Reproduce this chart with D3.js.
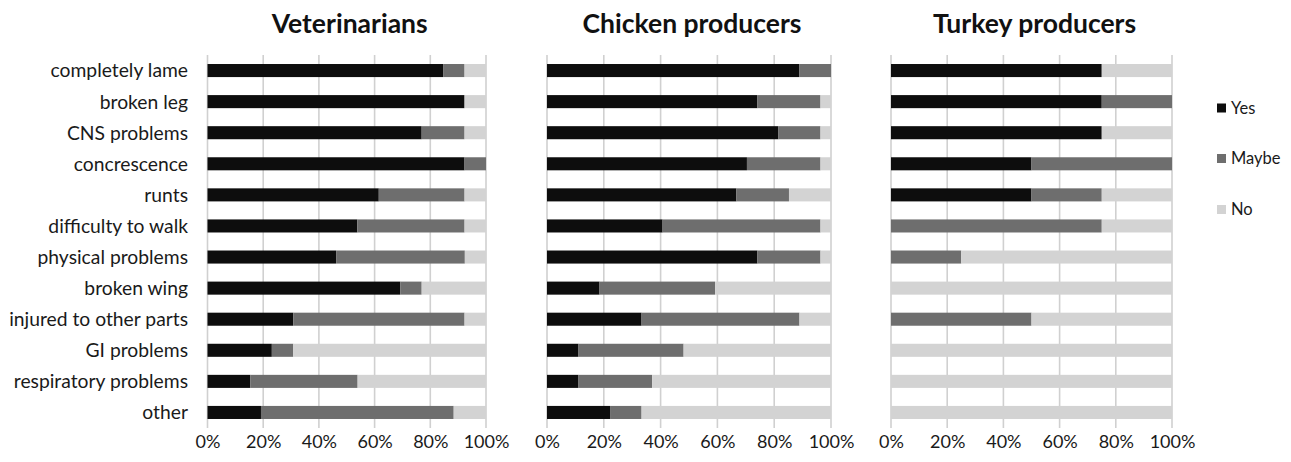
<!DOCTYPE html>
<html>
<head>
<meta charset="utf-8">
<script src="https://cdn.jsdelivr.net/npm/d3@7"></script>
<style>
  html, body { margin: 0; padding: 0; background: #fff; }
  svg { display: block; font-family: Lato, "Open Sans", sans-serif; }
</style>
</head>
<body>
<svg id="chart" width="1291" height="462"></svg>
<script>
// ---- data ----
const categories = ["completely lame", "broken leg", "CNS problems", "concrescence", "runts",
  "difficulty to walk", "physical problems", "broken wing", "injured to other parts",
  "GI problems", "respiratory problems", "other"];
const seriesNames = ["Yes", "Maybe", "No"];
const panelTitles = ["Veterinarians", "Chicken producers", "Turkey producers"];
const tickValues = [0, 20, 40, 60, 80, 100];

const vetYes   = [84.6, 92.3, 76.9, 92.3, 61.5, 53.8, 46.2, 69.2, 30.8, 23.1, 15.4, 19.2];
const vetMaybe = [7.7, 0, 15.4, 7.7, 30.8, 38.5, 46.2, 7.7, 61.5, 7.7, 38.5, 69.2];
const vetNo    = [7.7, 7.7, 7.7, 0, 7.7, 7.7, 7.6, 23.1, 7.7, 69.2, 46.1, 11.6];

const chickenYes   = [88.9, 74.1, 81.5, 70.4, 66.7, 40.7, 74.1, 18.5, 33.3, 11.1, 11.1, 22.2];
const chickenMaybe = [11.1, 22.2, 14.8, 25.9, 18.5, 55.6, 22.2, 40.7, 55.6, 37.0, 25.9, 11.1];
const chickenNo    = [0, 3.7, 3.7, 3.7, 14.8, 3.7, 3.7, 40.8, 11.1, 51.9, 63.0, 66.7];

const turkeyYes   = [75, 75, 75, 50, 50, 0, 0, 0, 0, 0, 0, 0];
const turkeyMaybe = [0, 25, 0, 50, 25, 75, 25, 0, 50, 0, 0, 0];
const turkeyNo    = [25, 0, 25, 0, 25, 25, 75, 100, 50, 100, 100, 100];

// ---- layout / style ----
const colors = { Yes: "#0d0d0d", Maybe: "#6e6e6e", No: "#d3d3d3" };
const panelRanges = [[207.5, 486], [547, 831], [891, 1172]];
const plotTop = 55, plotBottom = 428;

const panels = [
  [vetYes, vetMaybe, vetNo],
  [chickenYes, chickenMaybe, chickenNo],
  [turkeyYes, turkeyMaybe, turkeyNo]
];

const svg = d3.select("#chart");

const y = d3.scaleBand().domain(categories).range([plotTop, plotBottom]).paddingInner(0.58).paddingOuter(0.29);
const color = d3.scaleOrdinal().domain(seriesNames).range(seriesNames.map(s => colors[s]));

panels.forEach((arrs, pi) => {
  const x = d3.scaleLinear().domain([0, 100]).range(panelRanges[pi]);
  const g = svg.append("g");

  // gridlines
  g.selectAll("line.grid").data(tickValues).join("line")
    .attr("class", "grid")
    .attr("x1", d => x(d)).attr("x2", d => x(d))
    .attr("y1", plotTop).attr("y2", plotBottom)
    .attr("stroke", "#d0d0d0").attr("stroke-width", 1.6);

  // stacked bars
  const rows = categories.map((c, i) => ({ cat: c, Yes: arrs[0][i], Maybe: arrs[1][i], No: arrs[2][i] }));
  const stacked = d3.stack().keys(seriesNames)(rows);
  g.selectAll("g.series").data(stacked).join("g")
    .attr("fill", d => color(d.key))
    .selectAll("rect").data(d => d).join("rect")
    .attr("x", d => x(d[0]))
    .attr("width", d => Math.max(0, x(d[1]) - x(d[0])))
    .attr("y", d => y(d.data.cat))
    .attr("height", y.bandwidth());

  // x axis labels
  const axis = d3.axisBottom(x).tickValues(tickValues).tickFormat(d => d + "%").tickSize(0).tickPadding(0);
  const ax = g.append("g").attr("transform", `translate(0,${plotBottom})`).call(axis);
  ax.select(".domain").remove();
  ax.selectAll("text")
    .attr("dy", null).attr("y", 20)
    .attr("fill", "#1a1a1a")
    .style("font-size", "18px").style("font-family", "Lato, sans-serif");

  // title
  g.append("text")
    .attr("x", (panelRanges[pi][0] + panelRanges[pi][1]) / 2 + 3)
    .attr("y", 33)
    .attr("text-anchor", "middle")
    .attr("font-weight", "bold")
    .attr("font-size", 26.5)
    .attr("fill", "#111")
    .text(panelTitles[pi]);

  // y labels on first panel
  if (pi === 0) {
    const yAxis = d3.axisLeft(y).tickSize(0).tickPadding(0);
    const ay = svg.append("g").attr("transform", `translate(188,0)`).call(yAxis);
    ay.select(".domain").remove();
    ay.selectAll("text")
      .attr("fill", "#1a1a1a")
      .attr("dy", "0.36em")
      .style("font-size", "19.3px").style("font-family", "Lato, sans-serif");
  }
});

// legend
const legendY = [108, 158.5, 209.5];
const lg = svg.append("g");
seriesNames.forEach((s, i) => {
  lg.append("rect").attr("x", 1217).attr("y", legendY[i] - 4.5).attr("width", 9).attr("height", 9).attr("fill", colors[s]);
  lg.append("text").attr("x", 1231).attr("y", legendY[i]).attr("dy", "0.36em")
    .attr("font-size", 16.5).attr("fill", "#1a1a1a").text(s);
});
</script>
</body>
</html>
